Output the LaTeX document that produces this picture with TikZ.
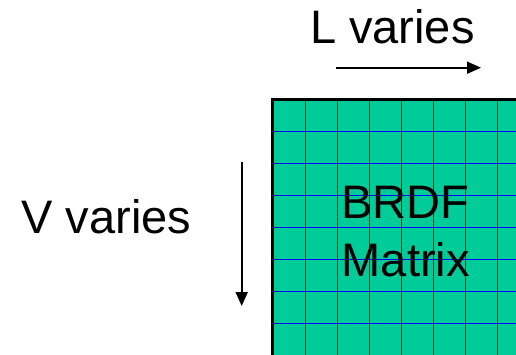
\documentclass[tikz,border=0pt]{standalone}
\usepackage{fontspec}
\setmainfont{Liberation Sans}
\usetikzlibrary{arrows.meta}
\definecolor{matfill}{HTML}{00CC99}
\begin{document}
\begin{tikzpicture}[x=1pt,y=-1pt,
  lbl/.style={font=\fontsize{47}{47}\selectfont, inner sep=0pt, anchor=base},
  arr/.style={line width=1.7pt, -{Triangle[length=14pt,width=12pt]}},
  gridline/.style={blue, line width=1pt}]
\useasboundingbox (0,0) rectangle (516,354);
\begin{scope}
\clip (0,0) rectangle (516,354);
\fill[matfill] (272.7,99) rectangle (530,370);
\foreach \k in {0,...,6} {
  \draw[gridline] ({305+32*\k},99) -- ({305+32*\k},370);
  \draw[gridline] (272.7,{131+32*\k}) -- (530,{131+32*\k});
}
\draw[line width=3pt] (272.7,370) -- (272.7,99) -- (530,99);
\end{scope}
\node[lbl] (brdf) at (405,218) {BRDF};
\node[lbl] (matrix) at (405.8,276.7) {Matrix};
\node[lbl] (lv) at (392.3,43) {L varies};
\node[lbl] (vv) at (106.3,233.3) {V varies};
\coordinate (la) at (336,67.7);
\coordinate (lb) at (481,67.7);
\coordinate (va) at (241.7,161.7);
\coordinate (vb) at (241.7,306);
\draw[arr] (la) -- (lb);
\draw[arr] (va) -- (vb);
\end{tikzpicture}
\end{document}
